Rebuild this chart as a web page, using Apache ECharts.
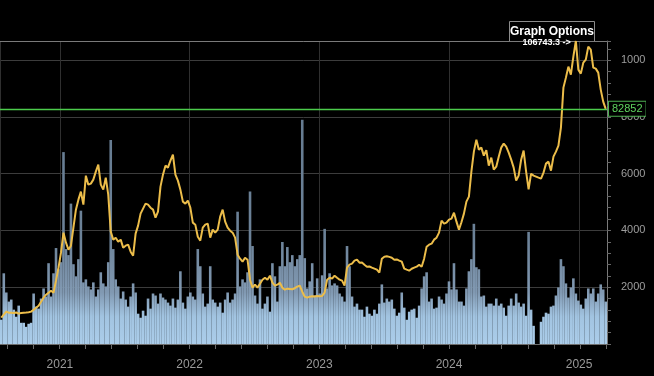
<!DOCTYPE html>
<html><head><meta charset="utf-8">
<script src="https://cdn.jsdelivr.net/npm/echarts@6/dist/echarts.min.js"></script>
<style>html,body{margin:0;padding:0;background:#000;overflow:hidden}#c{width:646px;height:376px;}</style>
</head><body><div id="c"></div>
<script>
// Weekly samples starting 2020-07-20
const startDate = '2020-07-20';
const stepDays = 7;
const price = [
9270,10330,11380,11030,11030,10900,11100,10680,10950,11050,
11120,11200,11400,12090,12790,13500,14910,16320,17370,18080,
18780,18080,22310,26890,32170,39220,35700,33230,34640,40980,
47330,50850,53670,49090,59310,56140,56500,57900,60720,63190,
56140,54380,58600,52610,39580,36760,37460,36050,36760,33940,
34640,34990,32530,31120,38870,41690,45920,47680,49440,49090,
48030,47330,44510,46620,55430,59660,62830,62130,64600,66710,
59660,57550,54380,50150,49440,50500,48030,42750,42040,37810,
36400,40980,42040,42390,37460,40280,39220,40280,44860,47330,
43100,40980,39930,39220,37460,31470,30060,29000,30410,29710,
22660,19840,20900,19850,21250,22660,23360,22660,24070,21600,
20550,20900,21600,19840,19140,19490,19400,19300,19650,20190,
20550,18430,16670,16320,16670,16800,16750,16900,16850,16950,
18080,22660,23360,23010,24070,23360,22660,22310,20550,26890,
27950,28300,29360,29710,28650,28700,27950,27240,27300,26890,
26540,26180,25130,30060,30770,30900,30700,30410,29710,29800,
29360,29000,26540,26180,25830,26500,26890,27240,27950,27200,
30060,34290,34990,35350,36760,37460,39220,43450,42390,42750,
43800,44160,46270,43100,40280,42900,45920,50150,51910,60720,
67770,72000,68470,69180,66360,68300,62830,65650,61420,62480,
66000,69180,70590,69530,67410,64950,62130,57550,59310,64900,
68120,60720,54500,60010,59310,58960,58600,58250,60370,63540,
64240,61070,66000,67770,69880,76230,90320,93840,97720,94900,
101250,106743.3,96660,95250,99130,100190,104770,103710,97370,97020,
95610,89620,85390,82852
];
const volume = [
24,70,51,42,44,34,27,38,21,21,
17,20,21,50,37,35,45,55,47,80,
47,70,95,74,81,190,94,88,139,79,
67,84,132,61,64,57,54,61,47,54,
71,60,57,81,202,94,64,57,45,52,
44,37,47,60,51,30,26,33,28,45,
35,50,48,40,50,46,44,41,38,45,
36,44,72,41,35,47,51,47,44,94,
77,50,37,40,77,44,41,37,41,31,
44,51,41,44,50,131,57,64,61,71,
151,97,48,40,64,35,40,47,32,80,
67,42,77,101,77,96,81,88,77,84,
88,222,85,55,62,80,48,65,50,68,
114,55,70,58,60,58,50,47,42,97,
77,47,37,40,34,34,27,37,30,28,
34,30,40,59,41,45,42,44,35,28,
31,51,36,24,32,34,35,26,38,55,
67,71,42,45,35,36,47,44,40,50,
62,54,80,54,42,42,38,55,72,84,
119,76,74,47,48,37,40,40,38,45,
38,40,36,28,38,45,38,50,41,37,
40,28,111,34,18,null,null,22,27,31,
30,37,38,48,56,84,77,60,46,56,
65,50,43,39,35,45,55,50,55,42,
50,59,54,42
];
const yearLabels = ['2021','2022','2023','2024','2025'];
const priceTicks = [0,20000,40000,60000,80000,100000];
const lastPrice = 82852;
const buttonText = 'Graph Options';

const DAY = 86400000;
const sd = startDate.split('-').map(Number);
const dates = price.map((_, i) => new Date(sd[0], sd[1]-1, sd[2] + i*stepDays).getTime());
const tMin = dates[0], tMax = dates[dates.length-1];
// day categories for the fine tick axis (1/5-year ticks)
const nDays = Math.round((tMax - tMin) / DAY) + 1;
const dayCats = Array.from({length: nDays}, (_, i) => String(i));
const tickDays = new Set();
for (let y = 2020; y <= 2025; y++) {
  const a = new Date(y,0,1).getTime(), b = new Date(y+1,0,1).getTime();
  for (let k = 0; k < 5; k++) {
    const d = Math.round((a + (b-a)*k/5 - tMin) / DAY);
    if (d >= 0 && d < nDays) tickDays.add(d);
  }
}
const priceMax = Math.max(...price);

const FONT = '"Liberation Sans", Arial, sans-serif';
const chart = echarts.init(document.getElementById('c'));
const volColor = new echarts.graphic.LinearGradient(0, 344, 0, 41, [
  {offset:0, color:'#abcdea'},
  {offset:0.09, color:'#a2c4e1'},
  {offset:0.17, color:'#8199b2'},
  {offset:0.35, color:'#6c8298'},
  {offset:1, color:'#62778c'}
], true);

chart.setOption({
  backgroundColor: '#000',
  animation: false,
  textStyle: {fontFamily: FONT},
  grid: {left: 0, right: 39, top: 41, bottom: 32, show: false, containLabel: false, outerBoundsMode: 'none'},
  xAxis: [{
    type: 'time', min: tMin, max: tMax,
    axisLine: {show: true, lineStyle: {color: '#6e6e6e'}},
    axisTick: {show: false},
    axisLabel: {
      color: '#9a9a9a', fontSize: 12, margin: 15, fontFamily: FONT,
      formatter: v => { const d = new Date(v); return (d.getMonth() === 0 && d.getDate() === 1 && yearLabels.includes(String(d.getFullYear()))) ? String(d.getFullYear()) : ''; }
    },
    splitLine: {show: true, lineStyle: {color: '#2f2f2f'}},
    splitNumber: 5, minInterval: 300*DAY
  }, {
    type: 'category', data: dayCats, boundaryGap: false, position: 'bottom',
    axisLine: {show: false}, axisLabel: {show: false}, splitLine: {show: false},
    axisTick: {show: true, interval: (idx) => tickDays.has(idx), length: 5, lineStyle: {color: '#6a6a6a'}}
  }, {
    type: 'time', min: tMin, max: tMax, position: 'top',
    axisLine: {show: true, lineStyle: {color: '#7a7a7a'}}, axisLabel: {show: false},
    axisTick: {show: false}, splitLine: {show: false}
  }],
  yAxis: [{
    type: 'value', position: 'right', min: priceTicks[0], max: priceMax, interval: priceTicks[1] - priceTicks[0],
    axisLine: {show: true, lineStyle: {color: '#7a7a7a'}},
    axisTick: {show: true, length: 4, lineStyle: {color: '#666'}},
    minorTick: {show: true, splitNumber: 5, length: 4, lineStyle: {color: '#666'}},
    splitLine: {show: true, lineStyle: {color: '#3c3c3c'}},
    axisLabel: {color: '#9d9d9d', fontSize: 11, margin: 14, showMinLabel: false, showMaxLabel: false,
      formatter: v => priceTicks.includes(v) ? String(v) : ''}
  }, {
    type: 'value', show: false, min: 0, max: 300, splitLine: {show: false}
  }],
  series: [{
    type: 'bar', name: 'Volume', xAxisIndex: 0, yAxisIndex: 1, silent: true,
    data: dates.map((d, i) => [d, volume[i]]),
    barWidth: 2.6, itemStyle: {color: volColor}, z: 1
  }, {
    type: 'line', name: 'Price', xAxisIndex: 0, yAxisIndex: 0,
    data: dates.map((d, i) => [d, price[i]]),
    showSymbol: false, symbol: 'none',
    lineStyle: {color: '#ecbd4a', width: 2}, z: 3,
    markLine: {
      silent: true, symbol: ['none', 'none'], animation: false,
      data: [{yAxis: lastPrice}],
      lineStyle: {color: '#4ccc4c', width: 1.4, type: 'solid', opacity: 1},
      label: {show: true, position: 'end', formatter: String(lastPrice), color: '#5fd35f', fontSize: 11,
        backgroundColor: '#000', borderColor: '#4caf50', borderWidth: 1, padding: [2, 3, 1, 3], distance: 2}
    },
    markPoint: {
      silent: true, symbol: 'circle', symbolSize: 0,
      data: [{type: 'max'}],
      label: {show: true, position: 'left', distance: 5, offset: [0, 2],
        formatter: p => p.value + ' ->', color: '#fff', fontWeight: 'bold', fontSize: 9}
    }
  }],
  graphic: [{
    type: 'group', left: 509, top: 21, z: 0,
    children: [
      {type: 'rect', shape: {x: 0, y: 0, width: 85, height: 20}, style: {fill: '#000', stroke: '#8c8c8c', lineWidth: 1}},
      {type: 'text', x: 42.5, y: 10.5, style: {text: buttonText, fill: '#fff', font: 'bold 12px ' + FONT, align: 'center', verticalAlign: 'middle'}}
    ]
  }]
});
</script></body></html>
